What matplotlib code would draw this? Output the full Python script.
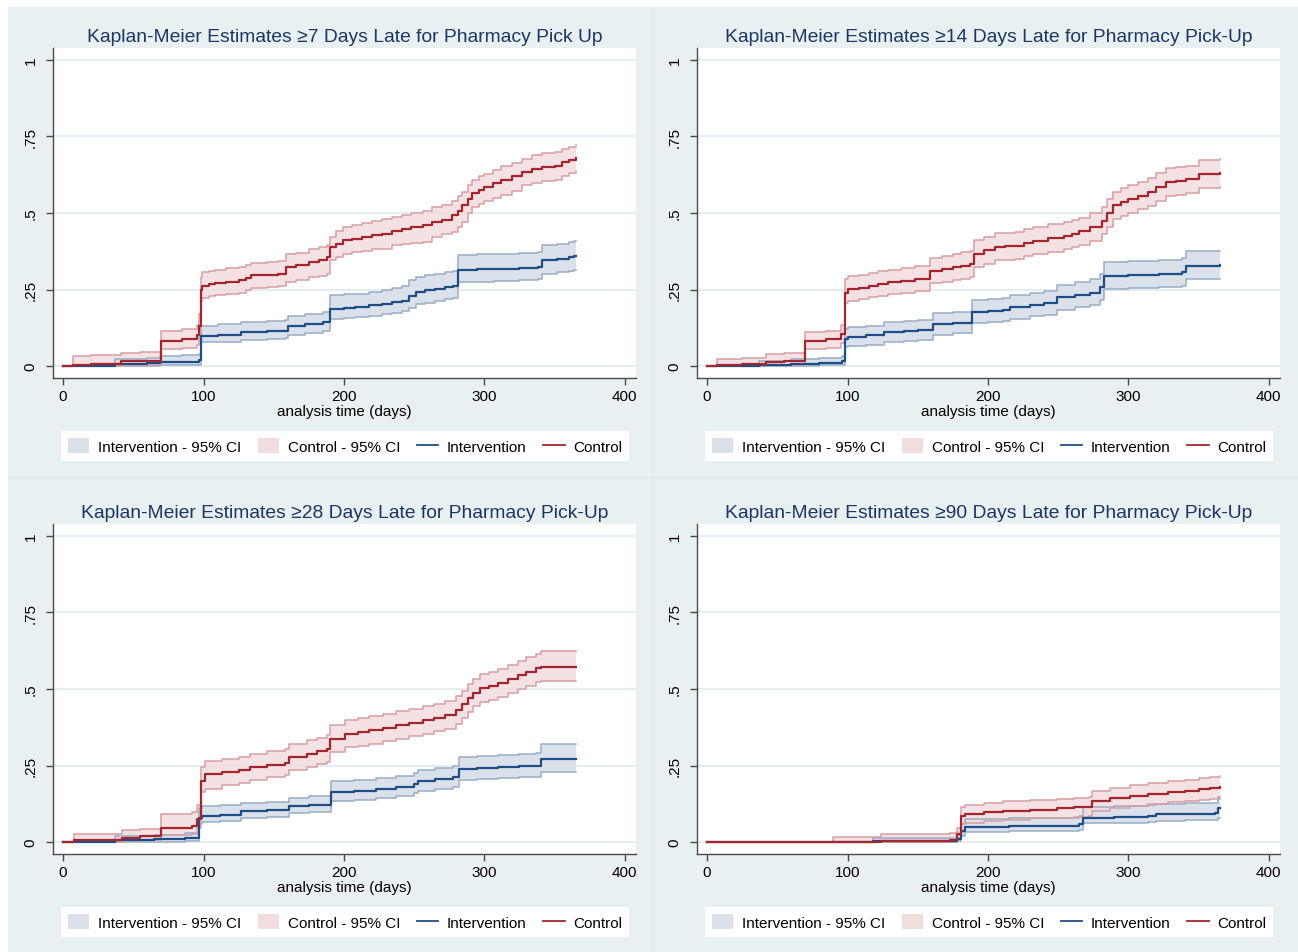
import numpy as np
import matplotlib
matplotlib.use("Agg")
import matplotlib.pyplot as plt
from matplotlib.patches import Patch, Rectangle
from matplotlib.lines import Line2D

plt.rcParams['font.family'] = ['Liberation Sans', 'DejaVu Sans']

# ---------------- data ----------------
titles = [
    "Kaplan-Meier Estimates \u22657 Days Late for Pharmacy Pick Up",
    "Kaplan-Meier Estimates \u226514 Days Late for Pharmacy Pick-Up",
    "Kaplan-Meier Estimates \u226528 Days Late for Pharmacy Pick-Up",
    "Kaplan-Meier Estimates \u226590 Days Late for Pharmacy Pick-Up",
]
x_ticks = [0, 100, 200, 300, 400]
y_ticks = [0, 0.25, 0.5, 0.75, 1]
y_ticklabels = ["0", ".25", ".5", ".75", "1"]
x_label = "analysis time (days)"
legend_labels = ["Intervention - 95% CI", "Control - 95% CI", "Intervention", "Control"]

# ---- >=7 days : control ----
t7_c = [0, 7, 20, 41, 55, 70, 85, 95, 97, 98, 99, 104, 108, 116, 125, 130, 134, 145, 153, 159, 166, 175, 182,
        188, 190, 194, 199, 206, 213, 220, 227, 234, 241, 248, 256, 263, 270, 277, 281, 284, 288, 291, 296, 300,
        306, 312, 320, 327, 334, 341, 350, 355, 360, 365]
c7 = [0, 0.005, 0.007, 0.015, 0.018, 0.083, 0.088, 0.100, 0.130, 0.250, 0.263, 0.268, 0.272, 0.276, 0.280,
      0.288, 0.296, 0.299, 0.302, 0.323, 0.330, 0.340, 0.346, 0.356, 0.389, 0.398, 0.411, 0.416, 0.422, 0.428,
      0.433, 0.440, 0.447, 0.454, 0.462, 0.470, 0.477, 0.493, 0.505, 0.526, 0.545, 0.564, 0.576, 0.586, 0.597,
      0.608, 0.622, 0.635, 0.643, 0.651, 0.653, 0.666, 0.672, 0.679]
c7_lo = [0, 0, 0, 0.003, 0.005, 0.055, 0.060, 0.070, 0.095, 0.212, 0.222, 0.228, 0.232, 0.235, 0.239, 0.247,
         0.254, 0.257, 0.260, 0.274, 0.282, 0.290, 0.294, 0.300, 0.345, 0.355, 0.367, 0.372, 0.377, 0.381,
         0.384, 0.394, 0.399, 0.402, 0.405, 0.420, 0.430, 0.438, 0.455, 0.470, 0.500, 0.520, 0.530, 0.540,
         0.550, 0.560, 0.572, 0.590, 0.598, 0.606, 0.608, 0.622, 0.630, 0.638]
c7_hi = [0, 0.033, 0.035, 0.043, 0.046, 0.116, 0.120, 0.135, 0.170, 0.292, 0.306, 0.311, 0.315, 0.319, 0.323,
         0.331, 0.338, 0.341, 0.344, 0.366, 0.370, 0.382, 0.389, 0.395, 0.422, 0.440, 0.455, 0.461, 0.468,
         0.475, 0.482, 0.488, 0.494, 0.500, 0.506, 0.518, 0.525, 0.540, 0.555, 0.569, 0.590, 0.608, 0.620,
         0.628, 0.640, 0.652, 0.662, 0.676, 0.688, 0.695, 0.700, 0.710, 0.716, 0.722]
# ---- >=7 days : intervention ----
t7_i = [0, 37, 60, 69, 85, 97, 98, 110, 127, 145, 158, 160, 172, 185, 190, 200, 208, 218, 227, 234, 241, 246,
        251, 258, 265, 272, 278, 281, 295, 307, 325, 338, 341, 352, 360, 364, 365]
i7 = [0, 0.007, 0.010, 0.012, 0.014, 0.020, 0.099, 0.103, 0.110, 0.113, 0.116, 0.130, 0.136, 0.143, 0.187,
      0.190, 0.192, 0.198, 0.203, 0.208, 0.214, 0.228, 0.242, 0.247, 0.252, 0.258, 0.263, 0.313, 0.316, 0.318,
      0.321, 0.324, 0.345, 0.350, 0.355, 0.360, 0.360]
i7_lo = [0, 0, 0.001, 0.002, 0.003, 0.005, 0.077, 0.080, 0.086, 0.089, 0.091, 0.102, 0.108, 0.114, 0.154,
         0.157, 0.160, 0.165, 0.170, 0.174, 0.180, 0.190, 0.203, 0.207, 0.212, 0.218, 0.222, 0.274, 0.276,
         0.278, 0.281, 0.283, 0.302, 0.307, 0.311, 0.315, 0.315]
i7_hi = [0, 0.022, 0.026, 0.034, 0.036, 0.040, 0.132, 0.136, 0.143, 0.146, 0.150, 0.165, 0.171, 0.178, 0.231,
         0.234, 0.237, 0.243, 0.248, 0.255, 0.262, 0.280, 0.291, 0.296, 0.301, 0.306, 0.312, 0.362, 0.365,
         0.367, 0.370, 0.373, 0.395, 0.400, 0.404, 0.408, 0.408]

# ---- >=14 days : control ----
t14_c = [0, 7, 25, 42, 55, 70, 85, 95, 98, 100, 108, 115, 122, 129, 138, 148, 159, 167, 175, 181, 187, 190,
         197, 205, 212, 219, 226, 232, 243, 254, 260, 265, 273, 281, 285, 289, 295, 300, 307, 314, 320, 327,
         334, 341, 350, 365]
c14 = [0, 0.004, 0.006, 0.013, 0.016, 0.081, 0.087, 0.104, 0.240, 0.251, 0.256, 0.262, 0.268, 0.273, 0.278,
       0.284, 0.311, 0.316, 0.322, 0.327, 0.333, 0.366, 0.378, 0.389, 0.391, 0.393, 0.402, 0.410, 0.418, 0.426,
       0.433, 0.440, 0.454, 0.475, 0.500, 0.525, 0.536, 0.546, 0.557, 0.568, 0.585, 0.601, 0.606, 0.610, 0.628,
       0.631]
c14_lo = [0, 0, 0, 0.002, 0.004, 0.055, 0.060, 0.075, 0.205, 0.214, 0.219, 0.224, 0.229, 0.234, 0.240, 0.245,
          0.270, 0.275, 0.281, 0.286, 0.291, 0.323, 0.334, 0.345, 0.347, 0.349, 0.358, 0.366, 0.374, 0.382,
          0.389, 0.396, 0.410, 0.430, 0.455, 0.480, 0.491, 0.501, 0.512, 0.523, 0.540, 0.556, 0.560, 0.565,
          0.582, 0.585]
c14_hi = [0, 0.024, 0.026, 0.040, 0.043, 0.110, 0.116, 0.135, 0.285, 0.295, 0.298, 0.303, 0.309, 0.314, 0.320,
          0.326, 0.354, 0.359, 0.365, 0.371, 0.377, 0.411, 0.423, 0.434, 0.436, 0.438, 0.447, 0.455, 0.463,
          0.471, 0.478, 0.485, 0.499, 0.520, 0.545, 0.570, 0.581, 0.591, 0.602, 0.613, 0.630, 0.646, 0.651,
          0.655, 0.672, 0.675]
# ---- >=14 days : intervention ----
t14_i = [0, 37, 60, 80, 96, 98, 100, 113, 126, 140, 150, 161, 175, 189, 200, 211, 216, 230, 240, 249, 262, 273,
         280, 283, 300, 322, 338, 341, 365]
i14 = [0, 0.005, 0.008, 0.010, 0.016, 0.087, 0.096, 0.100, 0.110, 0.114, 0.117, 0.137, 0.142, 0.177, 0.180,
       0.184, 0.193, 0.200, 0.205, 0.224, 0.232, 0.240, 0.257, 0.295, 0.298, 0.300, 0.306, 0.328, 0.330]
i14_lo = [0, 0, 0.001, 0.002, 0.004, 0.062, 0.066, 0.070, 0.080, 0.083, 0.086, 0.103, 0.108, 0.140, 0.143,
          0.147, 0.155, 0.162, 0.166, 0.184, 0.192, 0.200, 0.216, 0.252, 0.255, 0.257, 0.263, 0.284, 0.284]
i14_hi = [0, 0.018, 0.022, 0.025, 0.032, 0.120, 0.126, 0.130, 0.144, 0.148, 0.151, 0.172, 0.178, 0.216, 0.219,
          0.223, 0.233, 0.240, 0.245, 0.266, 0.275, 0.283, 0.300, 0.340, 0.343, 0.345, 0.352, 0.375, 0.377]

# ---- >=28 days : control ----
t28_c = [0, 8, 42, 55, 70, 92, 95, 98, 101, 113, 125, 133, 145, 158, 161, 174, 181, 188, 190, 201, 210, 218,
         228, 237, 246, 256, 264, 272, 280, 284, 288, 292, 297, 303, 310, 317, 324, 330, 337, 340, 365]
c28 = [0, 0.007, 0.014, 0.020, 0.047, 0.053, 0.075, 0.200, 0.223, 0.228, 0.234, 0.245, 0.252, 0.259, 0.277,
       0.288, 0.296, 0.305, 0.338, 0.354, 0.359, 0.365, 0.373, 0.382, 0.390, 0.398, 0.406, 0.414, 0.431, 0.450,
       0.469, 0.488, 0.502, 0.510, 0.519, 0.533, 0.546, 0.557, 0.568, 0.573, 0.573]
c28_lo = [0, 0, 0.003, 0.006, 0.022, 0.027, 0.045, 0.165, 0.173, 0.187, 0.193, 0.204, 0.211, 0.218, 0.235,
          0.246, 0.254, 0.262, 0.294, 0.310, 0.315, 0.321, 0.329, 0.338, 0.346, 0.354, 0.362, 0.370, 0.386,
          0.405, 0.424, 0.443, 0.457, 0.465, 0.474, 0.488, 0.501, 0.511, 0.522, 0.527, 0.527]
c28_hi = [0, 0.025, 0.040, 0.043, 0.093, 0.098, 0.120, 0.245, 0.266, 0.272, 0.278, 0.289, 0.296, 0.303, 0.321,
          0.332, 0.341, 0.350, 0.384, 0.400, 0.405, 0.411, 0.419, 0.428, 0.436, 0.444, 0.452, 0.460, 0.476,
          0.495, 0.515, 0.534, 0.548, 0.556, 0.565, 0.579, 0.592, 0.603, 0.614, 0.623, 0.623]
# ---- >=28 days : intervention ----
t28_i = [0, 37, 65, 87, 97, 99, 112, 127, 145, 161, 175, 191, 207, 223, 237, 250, 253, 265, 278, 282, 295, 310,
         325, 337, 340, 365]
i28 = [0, 0.006, 0.009, 0.014, 0.080, 0.086, 0.090, 0.102, 0.106, 0.118, 0.122, 0.162, 0.168, 0.173, 0.180,
       0.190, 0.200, 0.206, 0.212, 0.239, 0.242, 0.245, 0.248, 0.250, 0.272, 0.272]
i28_lo = [0, 0, 0.001, 0.003, 0.060, 0.066, 0.070, 0.080, 0.083, 0.094, 0.098, 0.133, 0.138, 0.143, 0.150,
          0.159, 0.168, 0.174, 0.180, 0.203, 0.206, 0.209, 0.212, 0.214, 0.230, 0.230]
i28_hi = [0, 0.020, 0.024, 0.030, 0.110, 0.118, 0.120, 0.126, 0.132, 0.145, 0.150, 0.200, 0.204, 0.208, 0.216,
          0.225, 0.236, 0.242, 0.248, 0.279, 0.282, 0.285, 0.288, 0.290, 0.319, 0.319]

# ---- >=90 days : control ----
t90_c = [0, 90, 124, 173, 178, 181, 184, 197, 211, 230, 249, 261, 272, 274, 287, 301, 314, 328, 340, 350, 358,
         365]
c90 = [0, 0.001, 0.003, 0.007, 0.025, 0.086, 0.091, 0.097, 0.102, 0.106, 0.110, 0.113, 0.116, 0.135, 0.143,
       0.151, 0.157, 0.164, 0.168, 0.172, 0.176, 0.179]
c90_lo = [0, 0, 0, 0.001, 0.012, 0.058, 0.063, 0.068, 0.073, 0.077, 0.080, 0.083, 0.086, 0.103, 0.110, 0.118,
          0.124, 0.131, 0.135, 0.139, 0.142, 0.145]
c90_hi = [0, 0.016, 0.025, 0.028, 0.045, 0.116, 0.121, 0.127, 0.133, 0.138, 0.142, 0.145, 0.148, 0.168, 0.177,
          0.185, 0.192, 0.199, 0.204, 0.208, 0.213, 0.217]
# ---- >=90 days : intervention ----
t90_i = [0, 118, 178, 181, 184, 215, 246, 265, 268, 290, 314, 320, 340, 362, 364, 365]
i90 = [0, 0.002, 0.009, 0.036, 0.049, 0.051, 0.053, 0.058, 0.080, 0.083, 0.086, 0.091, 0.092, 0.094, 0.110,
       0.110]
i90_lo = [0, 0, 0.002, 0.020, 0.033, 0.035, 0.036, 0.040, 0.061, 0.063, 0.066, 0.070, 0.071, 0.073, 0.080,
          0.080]
i90_hi = [0, 0.012, 0.022, 0.060, 0.075, 0.077, 0.079, 0.085, 0.113, 0.117, 0.120, 0.125, 0.126, 0.128, 0.146,
          0.146]

panels = [
    (t7_i, i7, i7_lo, i7_hi, t7_c, c7, c7_lo, c7_hi),
    (t14_i, i14, i14_lo, i14_hi, t14_c, c14, c14_lo, c14_hi),
    (t28_i, i28, i28_lo, i28_hi, t28_c, c28, c28_lo, c28_hi),
    (t90_i, i90, i90_lo, i90_hi, t90_c, c90, c90_lo, c90_hi),
]

# ---------------- style ----------------
W, H = 1298, 953
BG = '#e8f0f2'
GRID = '#e2eaee'
AXC = '#4a4a4a'
TITLE_C = '#1c3764'
I_LINE = '#1f4d85'
C_LINE = '#a3262e'
I_FILL = '#dae1ea'
I_EDGE = '#97adc5'
C_FILL = '#f1dcde'
C_EDGE = '#d89ea2'

fig = plt.figure(figsize=(W / 100, H / 100), dpi=100)
fig.patch.set_facecolor('white')
fig.patches.append(Rectangle((8 / W, 0), 1 - 8 / W, 1 - 8 / H, transform=fig.transFigure,
                             facecolor=BG, edgecolor='none', zorder=-10))
# faint panel separators
fig.add_artist(Line2D([652 / W, 652 / W], [0, 1 - 8 / H], color='#e0e8eb', lw=1, zorder=-9))
fig.add_artist(Line2D([8 / W, 1], [1 - 478 / H, 1 - 478 / H], color='#e0e8eb', lw=1, zorder=-9))

xoffs = [0, 644, 0, 644]
yoffs = [0, 0, 476, 476]


def rect(l, t, r, b):
    return [l / W, 1 - b / H, (r - l) / W, (b - t) / H]


for k, (ti, iv, ilo, ihi, tc, cv, clo, chi) in enumerate(panels):
    dx, dy = xoffs[k], yoffs[k]
    L, T, R, B = 53 + dx, 49 + dy, 636 + dx, 379 + dy
    ax = fig.add_axes(rect(L, T, R, B))
    ax.set_facecolor('white')
    ax.fill_between(ti, ilo, ihi, step='post', color=I_FILL, lw=0, zorder=2)
    ax.step(ti, ilo, where='post', color=I_EDGE, lw=1.1, zorder=3)
    ax.step(ti, ihi, where='post', color=I_EDGE, lw=1.1, zorder=3)
    ax.fill_between(tc, clo, chi, step='post', color=C_FILL, lw=0, zorder=2, alpha=0.85)
    ax.step(tc, clo, where='post', color=C_EDGE, lw=1.1, zorder=3)
    ax.step(tc, chi, where='post', color=C_EDGE, lw=1.1, zorder=3)
    ax.step(ti, iv, where='post', color=I_LINE, lw=1.6, zorder=5)
    ax.step(tc, cv, where='post', color=C_LINE, lw=1.6, zorder=5)

    ax.set_xlim(-7.2, 408)
    ax.set_ylim(-0.039, 1.039)
    ax.set_xticks(x_ticks)
    ax.set_yticks(y_ticks)
    ax.set_yticklabels(y_ticklabels)
    ax.yaxis.grid(True, color=GRID, lw=1.2)
    ax.set_axisbelow(True)
    for s in ['top', 'right']:
        ax.spines[s].set_visible(False)
    for s in ['left', 'bottom']:
        ax.spines[s].set_color(AXC)
        ax.spines[s].set_linewidth(1.0)
    ax.tick_params(direction='out', length=5, width=1, color=AXC, labelsize=11, labelcolor='black')
    ax.tick_params(axis='x', pad=3)
    ax.tick_params(axis='y', pad=6)
    for lab in ax.get_yticklabels():
        lab.set_rotation(90)
        lab.set_va('center')
        lab.set_ha('right')

    cx = (L + R) / 2 / W
    fig.text(cx, 1 - (37 + dy) / H, titles[k], ha='center', va='center', fontsize=13.9, color=TITLE_C)
    fig.text(cx, 1 - (412 + dy) / H, x_label, ha='center', va='center', fontsize=11, color='black')

    handles = [Patch(facecolor=I_FILL, edgecolor='none'),
               Patch(facecolor=C_FILL, edgecolor='none'),
               Line2D([], [], color=I_LINE, lw=1.3),
               Line2D([], [], color=C_LINE, lw=1.3)]
    leg = fig.legend(handles, legend_labels, loc='center', bbox_to_anchor=((345 + dx) / W, 1 - (447 + dy) / H),
                     ncol=4, frameon=True, fancybox=False, fontsize=11, handlelength=1.4, handleheight=1.05,
                     handletextpad=0.55, columnspacing=1.1, borderpad=0.45, borderaxespad=0)
    leg.get_frame().set_facecolor('white')
    leg.get_frame().set_edgecolor('none')
    leg.get_frame().set_alpha(1)

fig.savefig('out.png', dpi=100, facecolor=fig.get_facecolor())
